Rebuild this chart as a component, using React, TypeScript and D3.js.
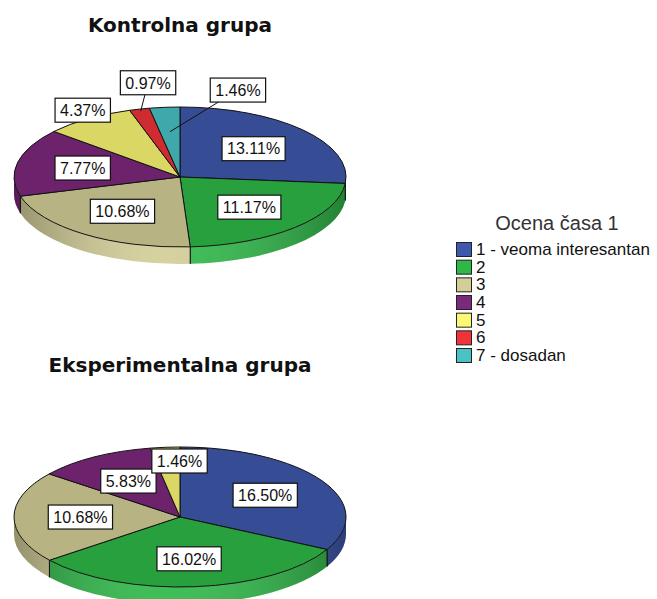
import { useEffect, useRef } from 'react';
import * as d3 from 'd3';

const categories = ['1 - veoma interesantan', '2', '3', '4', '5', '6', '7 - dosadan'];
const colors = ['#3e58ac', '#2eb848', '#d3ce97', '#7c287d', '#fbf873', '#ef3338', '#48c2c5'];
const kontrolnaValues = [13.11, 11.17, 10.68, 7.77, 4.37, 0.97, 1.46];
const eksperimentalnaValues = [16.5, 16.02, 10.68, 5.83, 1.46, 0, 0];
const groupTitles = ['Kontrolna grupa', 'Eksperimentalna grupa'];
const legendTitle = 'Ocena časa 1';

// label placement for the small slices (radius factor, angle shift in degrees)
const labelTweaks: Record<number, { r: number; da: number; leader?: boolean }>[] = [
  { 4: { r: 1.12, da: 2 }, 5: { r: 1.36, da: 6, leader: true }, 6: { r: 1.29, da: 21, leader: true } },
  { 4: { r: 0.8, da: 5 } },
];

const App = () => {
  const ref = useRef<SVGSVGElement>(null!);

  useEffect(() => {
    const width = 657;
    const height = 599;
    const rx = 166;
    const ry = 70;
    const depth = 17;
    const cx = 180;
    const centersY = [177, 517];
    const titleY = [32, 372];
    const groups = [kontrolnaValues, eksperimentalnaValues];

    const svg = d3.select(ref.current).attr('width', width).attr('height', height);
    svg.selectAll('*').remove();
    const defs = svg.append('defs');

    const pie = d3.pie<number>().sort(null).value(d => d);

    groups.forEach((values, gi) => {
      const cy = centersY[gi];
      const pt = (a: number, r = 1, dy = 0): [number, number] => [
        cx + rx * r * Math.sin(a),
        cy - ry * r * Math.cos(a) + dy,
      ];
      const g = svg.append('g');

      const gradId = `shade${gi}`;
      const grad = defs
        .append('linearGradient')
        .attr('id', gradId)
        .attr('gradientUnits', 'userSpaceOnUse')
        .attr('x1', cx - rx)
        .attr('x2', cx + rx)
        .attr('y1', 0)
        .attr('y2', 0);
      grad.append('stop').attr('offset', 0).attr('stop-color', '#000').attr('stop-opacity', 0.3);
      grad.append('stop').attr('offset', 0.45).attr('stop-color', '#fff').attr('stop-opacity', 0.08);
      grad.append('stop').attr('offset', 1).attr('stop-color', '#000').attr('stop-opacity', 0.3);

      g.append('text')
        .attr('x', cx)
        .attr('y', titleY[gi])
        .attr('text-anchor', 'middle')
        .attr('font-family', '"DejaVu Sans", Verdana, sans-serif')
        .attr('font-weight', 'bold')
        .attr('font-size', 20)
        .attr('fill', '#111')
        .text(groupTitles[gi]);

      const arcs = pie(values).filter(d => d.value > 0);

      // sides (front half only)
      arcs.forEach(d => {
        const s = Math.max(d.startAngle, Math.PI / 2);
        const e = Math.min(d.endAngle, (3 * Math.PI) / 2);
        if (e <= s) return;
        const [x0, y0] = pt(s);
        const [x1, y1] = pt(e);
        const p = `M${x0},${y0}A${rx},${ry} 0 0 1 ${x1},${y1}L${x1},${y1 + depth}A${rx},${ry} 0 0 0 ${x0},${y0 + depth}Z`;
        g.append('path').attr('d', p).attr('fill', colors[d.index]);
        g.append('path').attr('d', p).attr('fill', `url(#${gradId})`);
        [d.startAngle, d.endAngle].forEach(a => {
          if (a > Math.PI / 2 && a < (3 * Math.PI) / 2) {
            const [x, y] = pt(a);
            g.append('line')
              .attr('x1', x)
              .attr('y1', y)
              .attr('x2', x)
              .attr('y2', y + depth)
              .attr('stroke', '#111')
              .attr('stroke-width', 1);
          }
        });
      });

      // top faces
      arcs.forEach(d => {
        const [x0, y0] = pt(d.startAngle);
        const [x1, y1] = pt(d.endAngle);
        const large = d.endAngle - d.startAngle > Math.PI ? 1 : 0;
        g.append('path')
          .attr('d', `M${cx},${cy}L${x0},${y0}A${rx},${ry} 0 ${large} 1 ${x1},${y1}Z`)
          .attr('fill', d3.rgb(colors[d.index]).darker(0.4).formatHex())
          .attr('stroke', '#111')
          .attr('stroke-width', 1)
          .attr('stroke-linejoin', 'round');
      });

      // labels
      arcs.forEach(d => {
        const tw = labelTweaks[gi][d.index];
        const mid = (d.startAngle + d.endAngle) / 2;
        const a = mid + ((tw?.da ?? 0) * Math.PI) / 180;
        const [lx, ly] = pt(a, tw?.r ?? 0.6);
        const lg = g.append('g');
        if (tw?.leader) {
          const [tx, ty] = pt(mid, tw.r > 1.3 ? 0.97 : 0.65);
          lg.append('line')
            .attr('x1', lx)
            .attr('y1', ly)
            .attr('x2', tx)
            .attr('y2', ty)
            .attr('stroke', '#111')
            .attr('stroke-width', 1);
        }
        const rect = lg.append('rect');
        const t = lg
          .append('text')
          .attr('x', lx)
          .attr('y', ly)
          .attr('dy', '0.36em')
          .attr('text-anchor', 'middle')
          .attr('font-family', '"Liberation Sans", Arial, sans-serif')
          .attr('font-size', 16)
          .attr('fill', '#111')
          .text(`${d.value.toFixed(2)}%`);
        const w = (t.node() as SVGTextElement).getComputedTextLength() + 10;
        rect
          .attr('x', lx - w / 2)
          .attr('y', ly - 12)
          .attr('width', w)
          .attr('height', 24)
          .attr('fill', '#fff')
          .attr('stroke', '#111')
          .attr('stroke-width', 1.2);
      });
    });

    // legend
    const legend = svg.append('g');
    legend
      .append('text')
      .attr('x', 557)
      .attr('y', 230)
      .attr('text-anchor', 'middle')
      .attr('font-family', '"Liberation Sans", Arial, sans-serif')
      .attr('font-size', 20)
      .attr('fill', '#333')
      .text(legendTitle);
    const rowY = d3.scaleLinear().domain([0, categories.length - 1]).range([242, 348]);
    categories.forEach((c, i) => {
      legend
        .append('rect')
        .attr('x', 456.5)
        .attr('y', rowY(i) + 0.5)
        .attr('width', 15)
        .attr('height', 14)
        .attr('fill', colors[i])
        .attr('stroke', '#222')
        .attr('stroke-width', 1);
      legend
        .append('text')
        .attr('x', 476)
        .attr('y', rowY(i) + 13)
        .attr('font-family', '"Liberation Sans", Arial, sans-serif')
        .attr('font-size', 17)
        .attr('fill', '#111')
        .text(c);
    });

    return () => {
      ref.current.innerHTML = '';
    };
  }, []);

  return <svg ref={ref} style={{ position: 'absolute', left: 0, top: 0, display: 'block' }}></svg>;
};

export default App;
